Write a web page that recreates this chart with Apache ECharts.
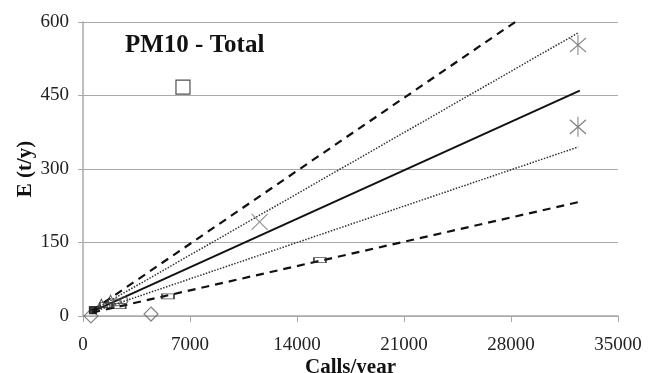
<!DOCTYPE html>
<html>
<head>
<meta charset="utf-8">
<script src="https://cdn.jsdelivr.net/npm/echarts@6/dist/echarts.min.js"></script>
<style>html,body{margin:0;padding:0;background:#fff;}#c{width:659px;height:373px;}</style>
</head>
<body>
<div id="c"></div>
<script>
// ---- data ----
var xTicks = [0, 7000, 14000, 21000, 28000, 35000];
var yTicks = [0, 150, 300, 450, 600];
var solidLine = [[600, 9], [32500, 460]];
var upperDashed = [[600, 11], [32500, 690]];
var upperDotted = [[600, 10], [32400, 578]];
var lowerDotted = [[600, 8], [32400, 345]];
var lowerDashed = [[600, 7], [32500, 233]];
var bigSquares = [[6540, 467]];
var asterisks = [[32380, 553], [32380, 386]];
var crosses = [[11550, 192]];
var diamonds = [[520, 0], [4450, 4]];
var smallRects = [[15500, 114], [5560, 40], [2400, 20], [1500, 22]];
var filledSquares = [[650, 12]];
var triangles = [[1200, 26], [1800, 34]];
var circles = [[2700, 32], [2200, 28]];

var FONT = '"Liberation Serif","Times New Roman",serif';
var chart = echarts.init(document.getElementById('c'));
function lineSeries(data, type, width, color, z) {
  return {type: 'line', data: data, symbol: 'none', clip: true, z: z || 3,
    lineStyle: {color: color, width: width, type: type}, animation: false};
}
function scat(data, symbol, size, color, fill) {
  return {type: 'scatter', data: data, symbol: symbol, symbolSize: size, z: 4, animation: false,
    itemStyle: {color: fill || 'rgba(255,255,255,0)', borderColor: color, borderWidth: 1.2}};
}
chart.setOption({
  animation: false,
  backgroundColor: '#fff',
  grid: {left: 83, right: 41, top: 22, bottom: 57, containLabel: false, outerBoundsMode: 'none'},
  graphic: [{type: 'text', left: 125, top: 33,
    style: {text: 'PM10 - Total', font: 'bold 25px ' + FONT, fill: '#111'}}],
  xAxis: {
    type: 'value', min: 0, max: 35000, interval: 7000,
    name: 'Calls/year', nameLocation: 'middle', nameGap: 41, nameMoveOverlap: false,
    nameTextStyle: {fontFamily: FONT, fontWeight: 'bold', fontSize: 21, color: '#111'},
    axisLine: {show: true, lineStyle: {color: '#aaa', width: 1.5}},
    axisTick: {show: true, length: 6, lineStyle: {color: '#aaa'}},
    axisLabel: {fontFamily: FONT, fontSize: 19, color: '#222', margin: 20,
      formatter: function (v) { return xTicks.indexOf(v) >= 0 ? String(v) : ''; }},
    splitLine: {show: false}
  },
  yAxis: {
    type: 'value', min: 0, max: 600, interval: 150,
    name: 'E (t/y)', nameLocation: 'middle', nameGap: 47, nameRotate: 90, nameMoveOverlap: false,
    nameTextStyle: {fontFamily: FONT, fontWeight: 'bold', fontSize: 21, color: '#111'},
    axisLine: {show: true, lineStyle: {color: '#aaa', width: 1.5}},
    axisTick: {show: true, length: 5, lineStyle: {color: '#aaa'}},
    axisLabel: {fontFamily: FONT, fontSize: 19, color: '#222', margin: 14,
      formatter: function (v) { return yTicks.indexOf(v) >= 0 ? String(v) : ''; }},
    splitLine: {show: true, lineStyle: {color: '#aaa', width: 1.2}}
  },
  series: [
    lineSeries(solidLine, 'solid', 2, '#111'),
    lineSeries(upperDashed, [8, 6], 2.2, '#111'),
    lineSeries(lowerDashed, [8, 6], 2.2, '#111'),
    lineSeries(upperDotted, [1.5, 1.5], 1.5, '#333'),
    lineSeries(lowerDotted, [1.5, 1.5], 1.5, '#333'),
    scat(bigSquares, 'rect', 14, '#222'),
    scat(asterisks, 'path://M0,0 L0,20 M-8,3 L8,17 M8,3 L-8,17', [16, 20], '#666'),
    scat(crosses, 'path://M0,0 L10,10 M10,0 L0,10', 16, '#777'),
    scat(diamonds, 'diamond', 14, '#666'),
    scat(smallRects, 'rect', [12, 5], '#222'),
    scat(filledSquares, 'rect', 7, '#111', '#111'),
    scat(triangles, 'triangle', 8, '#444'),
    scat(circles, 'circle', 7, '#555')
  ]
});
</script>
</body>
</html>
